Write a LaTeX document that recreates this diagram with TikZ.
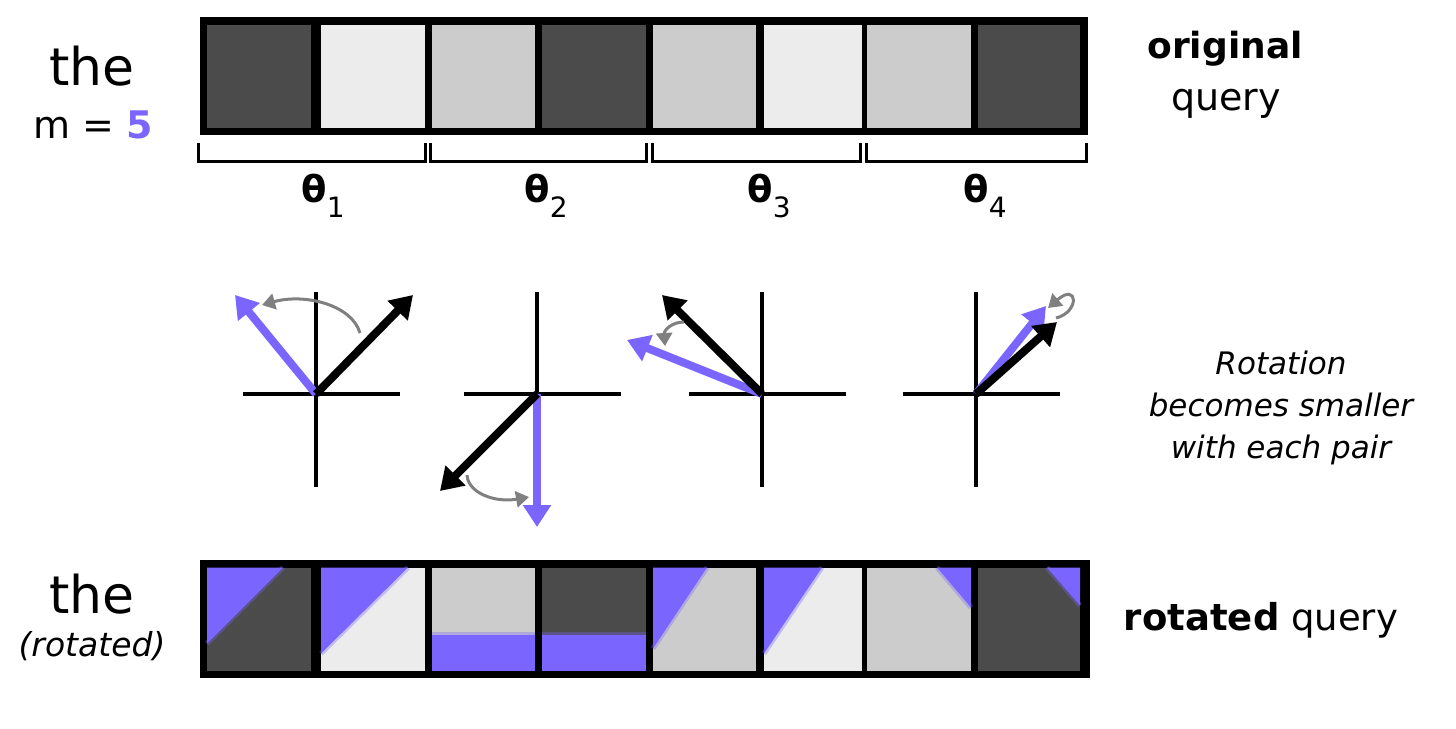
\documentclass[tikz,border=0pt]{standalone}
\usepackage{fontspec}
\setmainfont{DejaVu Sans}
\usepackage{xcolor}
\usepackage{tikz}
\usetikzlibrary{arrows.meta,positioning,calc}
\definecolor{qdark}{RGB}{75,75,75}
\definecolor{qlight}{RGB}{236,236,236}
\definecolor{qmid}{RGB}{204,204,204}
\definecolor{qpurple}{RGB}{122,102,255}
\definecolor{turngray}{RGB}{128,128,128}
\tikzset{
  cell/.style={rectangle, inner sep=0pt, outer sep=0pt, minimum height=103pt},
  bar/.style={fill=black},
  soft/.style={qpurple, opacity=0.35, line width=5pt},
  brace/.style={line width=3pt},
  axis/.style={line width=3.5pt},
  vec/.style={line width=8pt, -{Triangle[length=22pt,width=27pt]}},
  rotvec/.style={vec, qpurple},
  turn/.style={line width=3pt, turngray, -{Triangle[length=13pt,width=16pt]}},
  lab/.style={inner sep=0pt, anchor=base}
}
\newcommand{\thsub}[1]{{\bfseries θ}\raisebox{-15pt}{\fontsize{28}{28}\selectfont #1}}

\begin{document}
\begin{tikzpicture}[x=1pt, y=-1pt]
\useasboundingbox (0,0) rectangle (1456,728);

\fill[bar] (200,17) rectangle (1088,135);
\fill[bar] (200,560) rectangle (1090,678);
\foreach \xl/\xr/\col [count=\i] in {207/311/qdark, 321/425/qlight, 432/535/qmid, 542/646/qdark,
    653/756/qmid, 764/862/qlight, 867/971/qmid, 978/1080/qdark}{
  \node[cell, fill=\col, minimum width={\xr-\xl}] (q\i) at ({(\xl+\xr)/2},76.5) {};
  \node[cell, fill=\col, minimum width={\xr-\xl}] (r\i) at ({(\xl+\xr)/2},619) {};
}
\fill[qpurple] (r1.north west) -- ++(76,0) -- ++(-76,76) -- cycle;
\draw[soft] (r1.north west) ++(76,0) -- ++(-76,76);
\fill[qpurple] (r2.north west) -- ++(87,0) -- ++(-87,86) -- cycle;
\draw[soft] (r2.north west) ++(87,0) -- ++(-87,86);
\fill[qpurple] (r3.south west) rectangle ([yshift=36pt]r3.south east);
\draw[soft] ([yshift=36pt]r3.south west) -- ([yshift=36pt]r3.south east);
\fill[qpurple] (r4.south west) rectangle ([yshift=36pt]r4.south east);
\draw[soft] ([yshift=36pt]r4.south west) -- ([yshift=36pt]r4.south east);
\fill[qpurple] (r5.north west) -- ++(54,0) -- ++(-54,81) -- cycle;
\draw[soft] (r5.north west) ++(54,0) -- ++(-54,81);
\fill[qpurple] (r6.north west) -- ++(58,0) -- ++(-58,86) -- cycle;
\draw[soft] (r6.north west) ++(58,0) -- ++(-58,86);
\fill[qpurple] (r7.north east) -- ++(-34,0) -- ++(34,40) -- cycle;
\draw[soft] (r7.north east) ++(-34,0) -- ++(34,40);
\fill[qpurple] (r8.north east) -- ++(-33,0) -- ++(33,38) -- cycle;
\draw[soft] (r8.north east) ++(-33,0) -- ++(33,38);

\draw[brace] (198,143) |- (425,161) -- (425,143);
\draw[brace] (430,143) |- (646,161) -- (646,143);
\draw[brace] (652,143) |- (860,161) -- (860,143);
\draw[brace] (866,143) |- (1086,161) -- (1086,143);
\node[lab, font=\fontsize{37}{44}\selectfont] (th1) at (323,202) {\thsub{1}};
\node[lab, font=\fontsize{37}{44}\selectfont] (th2) at (546,202) {\thsub{2}};
\node[lab, font=\fontsize{37}{44}\selectfont] (th3) at (769,202) {\thsub{3}};
\node[lab, font=\fontsize{37}{44}\selectfont] (th4) at (985,202) {\thsub{4}};

\node[lab, font=\fontsize{52}{60}\selectfont] (the1) at (92,85) {the};
\node[lab, font=\fontsize{38}{46}\selectfont] (mpos) at (93,138) {m = \textbf{\color{qpurple}5}};
\node[lab, font=\fontsize{52}{60}\selectfont] (the2) at (92,613) {the};
\node[lab, font=\fontsize{33}{40}\selectfont\itshape] (rotd) at (92,656) {(rotated)};
\node[lab, font=\fontsize{36}{44}\selectfont\bfseries] (orig) at (1225,58) {original};
\node[lab, font=\fontsize{38}{44}\selectfont] (qry) at (1226,110) {query};
\node[lab, font=\fontsize{37}{44}\selectfont] (rotq) at (1261,630) {\textbf{rotated} query};
\node[inner sep=0pt, align=center, font=\fontsize{31}{42}\selectfont\itshape] (note) at (1281,408)
  {Rotation\\becomes smaller\\with each pair};

\foreach \i/\x in {1/316, 2/537, 3/762, 4/976}{
  \coordinate (o\i) at (\x,394);
  \draw[axis] (o\i) ++(-73,0) -- ++(157,0);
  \draw[axis] (o\i) ++(0,-102) -- ++(0,195);
}
\coordinate (k1) at (413,295); \coordinate (p1) at (235,295);
\coordinate (k2) at (440,491); \coordinate (p2) at (537,527);
\coordinate (k3) at (662,295); \coordinate (p3) at (627,340);
\coordinate (k4) at (1057,322); \coordinate (p4) at (1046,306);
\foreach \i in {1,...,4}{
  \draw[rotvec] (o\i) -- (p\i);
  \draw[vec] (o\i) -- (k\i);
}
\coordinate (s1) at (360,333); \coordinate (e1) at (262,305);
\coordinate (s2) at (467,475); \coordinate (e2) at (529,497);
\coordinate (s3) at (684,322); \coordinate (e3) at (665,346);
\coordinate (s4) at (1056,318); \coordinate (e4) at (1048,308);
\draw[turn] (s1) .. controls (352,305) and (305,293) .. (e1);
\draw[turn] (s2) .. controls (468,493) and (495,503) .. (e2);
\draw[turn] (s3) .. controls (672,322) and (664,330) .. (e3);
\draw[turn] (s4) .. controls (1080,312) and (1078,282) .. (e4);
\end{tikzpicture}
\end{document}
